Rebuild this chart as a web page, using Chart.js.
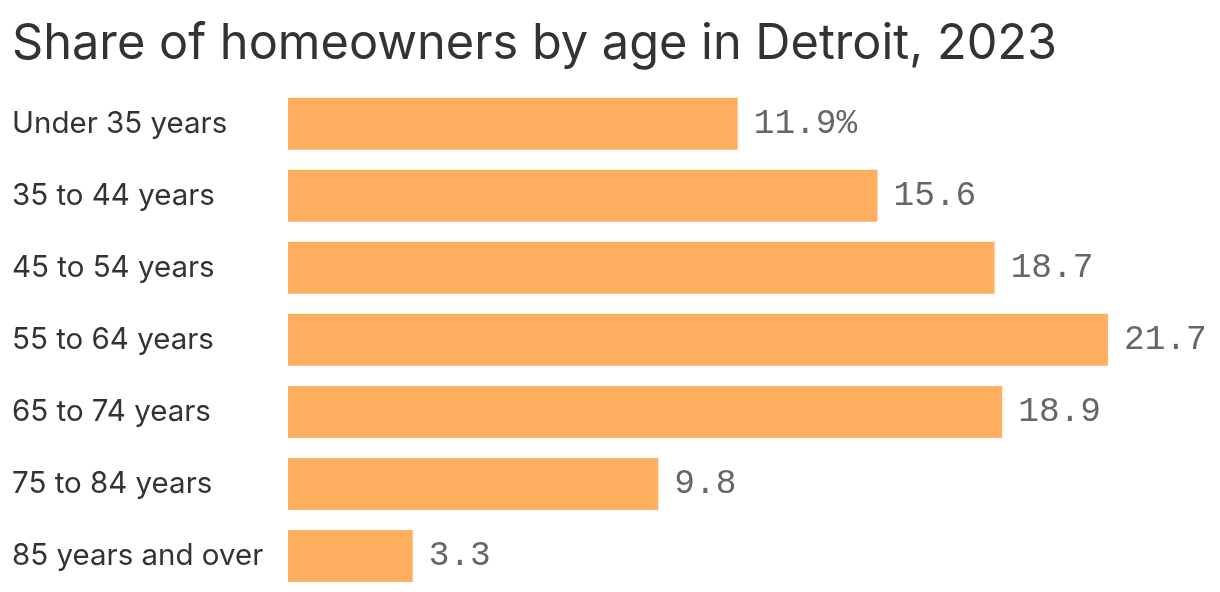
<!DOCTYPE html>
<html>
<head>
<meta charset="utf-8">
<script src="https://cdn.jsdelivr.net/npm/chart.js@4"></script>
<style>
  html, body { margin: 0; padding: 0; background: #fff; }
  #wrap { position: relative; width: 1220px; height: 592px; }
</style>
</head>
<body>
<div id="wrap"><canvas id="chart"></canvas></div>
<script>
const categories = ['Under 35 years', '35 to 44 years', '45 to 54 years', '55 to 64 years', '65 to 74 years', '75 to 84 years', '85 years and over'];
const shares = [11.9, 15.6, 18.7, 21.7, 18.9, 9.8, 3.3];
const valueLabels = ['11.9%', '15.6', '18.7', '21.7', '18.9', '9.8', '3.3'];

// value labels to the right of each bar
const valueLabelPlugin = {
    id: 'valueLabels',
    afterDatasetsDraw(chart) {
        const ctx = chart.ctx;
        const meta = chart.getDatasetMeta(0);
        ctx.save();
        ctx.font = '34.5px "Liberation Mono", monospace';
        ctx.fillStyle = '#666666';
        ctx.textBaseline = 'middle';
        ctx.textAlign = 'left';
        meta.data.forEach((bar, i) => {
            ctx.fillText(valueLabels[i], bar.x + 16, bar.y);
        });
        ctx.restore();
    }
};

const ctx = document.getElementById('chart').getContext('2d');
const chart = new Chart(ctx, {
    type: 'bar',
    data: {
        labels: categories,
        datasets: [{
            data: shares,
            backgroundColor: '#FFAF5F',
            borderWidth: 0,
            barPercentage: 0.722,
            categoryPercentage: 1.0
        }]
    },
    options: {
        indexAxis: 'y',
        responsive: true,
        maintainAspectRatio: false,
        animation: false,
        layout: { padding: { left: 12, right: 112, top: 0, bottom: 0 } },
        scales: {
            x: {
                display: false,
                min: 0,
                max: 21.7
            },
            y: {
                grid: { display: false },
                border: { display: false },
                ticks: {
                    crossAlign: 'far',
                    padding: 0,
                    color: '#333333',
                    font: { family: 'Inter', size: 29.5 }
                },
                afterFit(scale) {
                    scale.width = 276;
                    scale.paddingTop = 0;
                    scale.paddingBottom = 0;
                }
            }
        },
        plugins: {
            legend: { display: false },
            tooltip: { enabled: false },
            title: {
                display: true,
                text: 'Share of homeowners by age in Detroit, 2023',
                align: 'start',
                color: '#333333',
                font: { family: 'Inter', size: 48.7, weight: 'normal', lineHeight: 1.0 },
                padding: { top: 20, bottom: 19 }
            }
        }
    },
    plugins: [valueLabelPlugin]
});
</script>
</body>
</html>
